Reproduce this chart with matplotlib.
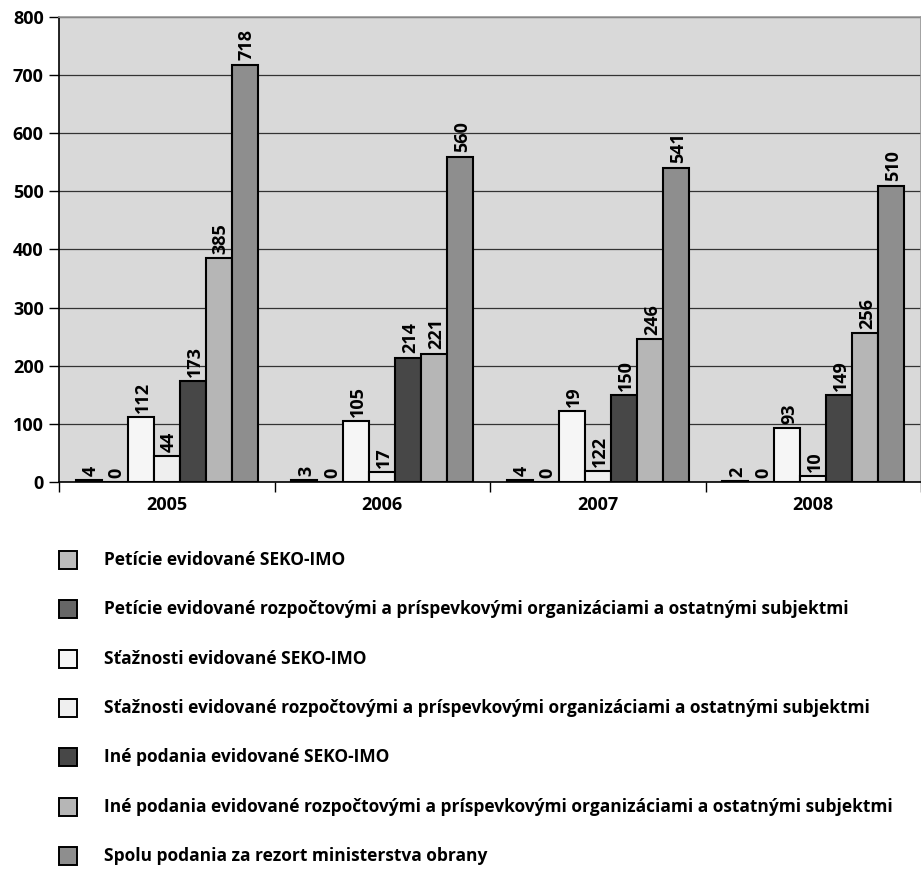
import numpy as np
import matplotlib
matplotlib.use('Agg')
import matplotlib.pyplot as plt
from matplotlib.patches import Rectangle

plt.rcParams['font.family'] = ['Open Sans', 'DejaVu Sans']
plt.rcParams['font.weight'] = 'bold'

years = ['2005', '2006', '2007', '2008']

series_names = [
    'Petície evidované SEKO-IMO',
    'Petície evidované rozpočtovými a príspevkovými organizáciami a ostatnými subjektmi',
    'Sťažnosti evidované SEKO-IMO',
    'Sťažnosti evidované rozpočtovými a príspevkovými organizáciami a ostatnými subjektmi',
    'Iné podania evidované SEKO-IMO',
    'Iné podania evidované rozpočtovými a príspevkovými organizáciami a ostatnými subjektmi',
    'Spolu podania za rezort ministerstva obrany',
]

petitions_seko = [4, 3, 4, 2]
petitions_org = [0, 0, 0, 0]
complaints_seko = [112, 105, 122, 93]
complaints_org = [44, 17, 19, 10]
other_seko = [173, 214, 150, 149]
other_org = [385, 221, 246, 256]
total = [718, 560, 541, 510]

series = [petitions_seko, petitions_org, complaints_seko, complaints_org,
          other_seko, other_org, total]

bar_colors = ['#bcbcbc', '#666666', '#f6f6f6', '#efefef', '#474747', '#b6b6b6', '#8e8e8e']

# value labels as printed in the original (2007 labels of the two complaint series are swapped there)
labels = [[str(v) for v in s] for s in series]
labels[2][2], labels[3][2] = '19', '122'

W, H = 921, 869
fig = plt.figure(figsize=(W / 100, H / 100), dpi=100)
ax = fig.add_axes([59 / W, 1 - 482 / H, 862 / W, 465 / H])
ax.set_facecolor('#d9d9d9')

x = np.arange(1, len(years) + 1)
bw = 0.1207
for i, vals in enumerate(series):
    xs = x + (i - 3) * bw
    ax.bar(xs, vals, width=bw, color=bar_colors[i], edgecolor='black', linewidth=1.5, zorder=3)
    for xi, v, t in zip(xs, vals, labels[i]):
        ax.annotate(t, (xi, v), xytext=(1.5, 3), textcoords='offset points',
                    rotation=90, ha='center', va='bottom', fontsize=13,
                    fontweight='bold', zorder=4)

ax.set_ylim(0, 800)
ax.set_xlim(0.5, 4.5)
ax.set_yticks(np.arange(0, 801, 100))
ax.yaxis.grid(True, color='#333333', linewidth=0.9, zorder=1)
ax.tick_params(axis='y', direction='out', length=7, width=1, pad=4, labelsize=13)
for lab in ax.get_yticklabels():
    lab.set_fontweight('bold')

ax.set_xticks(np.arange(0.5, 4.6, 1.0))
ax.set_xticklabels([])
ax.set_xticks(x, minor=True)
ax.set_xticklabels(years, minor=True, fontsize=13, fontweight='bold')
ax.tick_params(axis='x', which='major', direction='out', length=7, width=1)
ax.tick_params(axis='x', which='minor', length=0, pad=10)

ax.spines['left'].set_color('black')
ax.spines['bottom'].set_color('black')
ax.spines['top'].set_color('#999999')
ax.spines['right'].set_color('#999999')
for s in ax.spines.values():
    s.set_linewidth(1.2)

# legend, drawn by hand below the plot
for i, name in enumerate(series_names):
    yc = 560 + i * 49.3
    fig.add_artist(Rectangle((59 / W, 1 - (yc + 9) / H), 18 / W, 18 / H,
                             transform=fig.transFigure, facecolor=bar_colors[i],
                             edgecolor='black', linewidth=1.4))
    fig.text(104 / W, 1 - yc / H, name, ha='left', va='center',
             fontsize=12.5, fontweight='bold')

fig.savefig('out.png', dpi=100)
